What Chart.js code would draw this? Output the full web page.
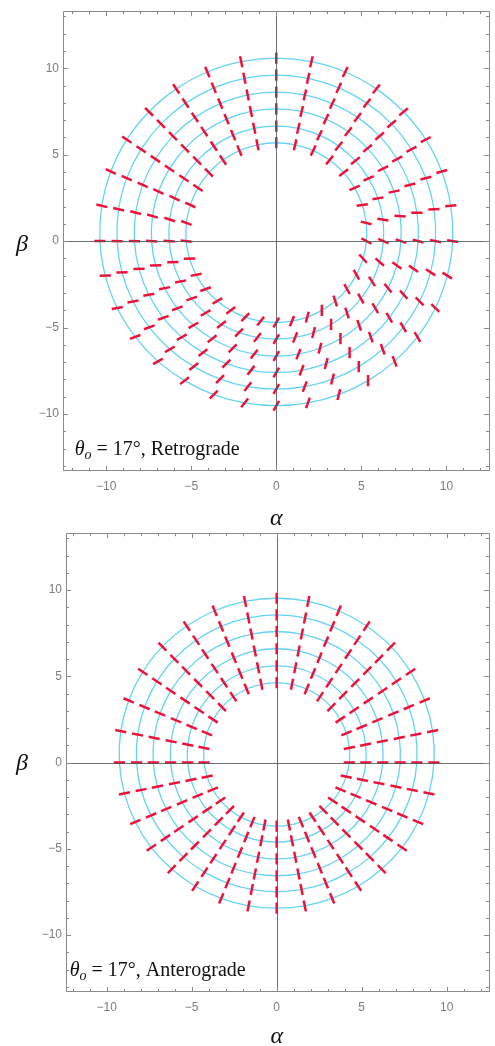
<!DOCTYPE html>
<html><head><meta charset="utf-8">
<script src="https://cdn.jsdelivr.net/npm/chart.js@4.4.0/dist/chart.umd.min.js"></script>
<style>
html,body{margin:0;padding:0;background:#fff;overflow:hidden;width:495px;height:1046px;}
.wrap{position:absolute;left:0;}
canvas{display:block;}
</style></head><body>
<div class="wrap" style="top:0px"><canvas id="c1" width="497" height="530"></canvas></div>
<div class="wrap" style="top:522px"><canvas id="c2" width="497" height="524"></canvas></div>
<script>
// ---- image-plane polar angle of each spoke (degrees) ----
const spokeAngles = [0,11.25,22.5,33.75,45,56.25,67.5,78.75,90,101.25,112.5,123.75,135,146.25,157.5,168.75,180,191.25,202.5,213.75,225,236.25,247.5,258.75,270,281.25,292.5,303.75,315,326.25,337.5,348.75];
const axisTicks = [-10,-5,0,5,10];

// ---- Retrograde: image radius b of each ring along each spoke ----
const retroRing1 = [5.30,5.39,5.47,5.54,5.60,5.64,5.67,5.68,5.69,5.68,5.67,5.64,5.60,5.54,5.47,5.39,5.30,5.20,5.10,5.00,4.90,4.82,4.76,4.72,4.71,4.72,4.76,4.82,4.90,5.00,5.10,5.20];
const retroRing2 = [6.30,6.39,6.47,6.53,6.58,6.61,6.63,6.65,6.65,6.65,6.63,6.61,6.58,6.53,6.47,6.39,6.30,6.20,6.09,5.98,5.88,5.80,5.73,5.68,5.67,5.68,5.73,5.80,5.88,5.98,6.09,6.20];
const retroRing3 = [7.33,7.42,7.50,7.55,7.59,7.62,7.64,7.65,7.65,7.65,7.64,7.62,7.59,7.55,7.50,7.42,7.33,7.23,7.11,7.00,6.89,6.79,6.71,6.67,6.65,6.67,6.71,6.79,6.89,7.00,7.11,7.23];
const retroRing4 = [8.34,8.43,8.50,8.55,8.59,8.61,8.61,8.62,8.62,8.62,8.61,8.61,8.59,8.55,8.50,8.43,8.34,8.23,8.11,7.99,7.86,7.76,7.67,7.62,7.60,7.62,7.67,7.76,7.86,7.99,8.11,8.23];
const retroRing5 = [9.36,9.45,9.52,9.56,9.59,9.60,9.60,9.60,9.60,9.60,9.60,9.60,9.59,9.56,9.52,9.45,9.36,9.25,9.12,8.98,8.85,8.73,8.64,8.58,8.56,8.58,8.64,8.73,8.85,8.98,9.12,9.25];
const retroRing6 = [10.37,10.46,10.53,10.57,10.58,10.59,10.59,10.58,10.58,10.58,10.59,10.59,10.58,10.57,10.53,10.46,10.37,10.25,10.12,9.98,9.84,9.71,9.61,9.54,9.52,9.54,9.61,9.71,9.84,9.98,10.12,10.25];
// polarization direction: offset (deg) from the radial direction
const retroTilt1 = [-28,-25,-15,-10,-7,-5,-3,-2,0,0,0,0,0,0,-2,-9,-6,-10,-12,-14,-15,-18,-22,-27,-30,-33,-37,-34,-27,-27,-38,-36];
const retroTilt2 = [-23,-20,-13,-9,-6,-5,-3,-2,0,0,0,0,0,0,-2,-7,-4,-10,-12,-14,-15,-18,-22,-27,-30,-33,-37,-34,-27,-27,-35,-30];
const retroTilt3 = [-18,-15,-11,-8,-6,-4,-3,-2,0,0,0,0,0,0,-2,-5,-3,-10,-12,-14,-15,-18,-22,-27,-30,-33,-37,-34,-26,-26,-28,-25];
const retroTilt4 = [-14,-11,-9,-7,-5,-4,-3,-2,0,0,0,0,0,0,-2,-3,-2,-10,-12,-14,-15,-18,-22,-27,-30,-32,-37,-34,-26,-26,-26,-24];
const retroTilt5 = [-11,-8,-8,-6,-5,-4,-3,-2,0,0,0,0,0,0,-2,-2,-1,-10,-12,-14,-15,-18,-22,-27,-30,-32,-37,-34,-25,-26,-23,-22];
const retroTilt6 = [-9,-6,-7,-6,-5,-4,-3,-2,0,0,0,0,0,0,-2,-2,0,-10,-12,-14,-15,-18,-22,-27,-30,-31,-37,-34,-25,-26,-22,-21];

// ---- Anterograde ----
const anteRing1 = [4.27,4.36,4.44,4.50,4.55,4.59,4.62,4.63,4.64,4.63,4.62,4.59,4.55,4.50,4.44,4.36,4.27,4.17,4.07,3.97,3.88,3.80,3.73,3.69,3.68,3.69,3.73,3.80,3.88,3.97,4.07,4.17];
const anteRing2 = [5.24,5.33,5.41,5.48,5.53,5.57,5.59,5.61,5.61,5.61,5.59,5.57,5.53,5.48,5.41,5.33,5.24,5.14,5.03,4.92,4.82,4.73,4.67,4.62,4.61,4.62,4.67,4.73,4.82,4.92,5.03,5.14];
const anteRing3 = [6.24,6.33,6.41,6.48,6.53,6.56,6.58,6.60,6.60,6.60,6.58,6.56,6.53,6.48,6.41,6.33,6.24,6.13,6.02,5.91,5.80,5.71,5.64,5.60,5.58,5.60,5.64,5.71,5.80,5.91,6.02,6.13];
const anteRing4 = [7.26,7.35,7.43,7.49,7.54,7.57,7.59,7.60,7.60,7.60,7.59,7.57,7.54,7.49,7.43,7.35,7.26,7.15,7.03,6.92,6.80,6.70,6.63,6.58,6.56,6.58,6.63,6.70,6.80,6.92,7.03,7.15];
const anteRing5 = [8.24,8.34,8.41,8.47,8.51,8.53,8.55,8.55,8.56,8.55,8.55,8.53,8.51,8.47,8.41,8.34,8.24,8.13,8.00,7.87,7.75,7.64,7.56,7.50,7.49,7.50,7.56,7.64,7.75,7.87,8.00,8.13];
const anteRing6 = [9.25,9.35,9.42,9.47,9.51,9.52,9.53,9.53,9.53,9.53,9.53,9.52,9.51,9.47,9.42,9.35,9.25,9.13,9.00,8.87,8.73,8.62,8.52,8.47,8.44,8.47,8.52,8.62,8.73,8.87,9.00,9.13];
const anteTilt = [0,0,0,0,0,0,0,0,0,0,0,0,0,0,0,0,0,0,0,0,0,0,0,0,0,0,0,0,0,0,0,0];

const RING_COLOR = '#63d3f7';
const TICK_COLOR = '#ef1238';

function toXY(radii){
  return radii.map((b,i)=>{const p=spokeAngles[i]*Math.PI/180;return {x:b*Math.cos(p),y:b*Math.sin(p)};});
}

const decor = {
  id:'decor',
  afterDatasetsDraw(chart, args, o){
    const ctx = chart.ctx, ca = chart.chartArea, xs = chart.scales.x, ys = chart.scales.y;
    ctx.save();
    // zero axes
    ctx.strokeStyle = 'rgba(85,85,85,0.85)';
    ctx.lineWidth = 1;
    const px0 = Math.round(xs.getPixelForValue(0))+0.5, py0 = Math.round(ys.getPixelForValue(0))+0.5;
    ctx.beginPath();
    ctx.moveTo(ca.left, py0); ctx.lineTo(ca.right, py0);
    ctx.moveTo(px0, ca.top); ctx.lineTo(px0, ca.bottom);
    ctx.stroke();
    // frame
    ctx.strokeStyle = '#8a8a8a';
    ctx.lineWidth = 1;
    ctx.beginPath();
    ctx.rect(Math.round(ca.left)+0.5, Math.round(ca.top)+0.5, Math.round(ca.right-ca.left), Math.round(ca.bottom-ca.top)-1);
    ctx.stroke();
    ctx.beginPath();
    for(let v=Math.ceil(xs.min); v<=Math.floor(xs.max); v++){
      const L = (v%5===0)?5:3;
      const p = Math.round(xs.getPixelForValue(v))+0.5;
      ctx.moveTo(p, ca.bottom); ctx.lineTo(p, ca.bottom-L);
      ctx.moveTo(p, ca.top); ctx.lineTo(p, ca.top+L);
    }
    for(let v=Math.ceil(ys.min); v<=Math.floor(ys.max); v++){
      const L = (v%5===0)?5:3;
      const p = Math.round(ys.getPixelForValue(v))+0.5;
      ctx.moveTo(ca.left, p); ctx.lineTo(ca.left+L, p);
      ctx.moveTo(ca.right, p); ctx.lineTo(ca.right-L, p);
    }
    ctx.stroke();
    // axis symbols
    ctx.fillStyle = '#111';
    ctx.font = 'italic 24px "Liberation Serif", "DejaVu Serif", serif';
    ctx.textAlign = 'center';
    ctx.textBaseline = 'alphabetic';
    ctx.fillText('\u03B2', 22, ys.getPixelForValue(0)+o.betaDy);
    ctx.fillText('\u03B1', xs.getPixelForValue(0), ca.bottom+o.alphaDy);
    // annotation centred at (-7,-12)
    const cx = xs.getPixelForValue(-7), cy = ys.getPixelForValue(-12);
    const fs = 20;
    const parts = [
      {t:'\u03B8', f:'italic '+fs+'px "Liberation Serif", serif', dy:0},
      {t:'o', f:'italic '+Math.round(fs*0.7)+'px "Liberation Serif", serif', dy:4},
      {t:' = 17\u00B0, '+o.note, f:fs+'px "Liberation Serif", serif', dy:0}
    ];
    let w = 0;
    parts.forEach(p=>{ctx.font=p.f; p.w=ctx.measureText(p.t).width; w+=p.w;});
    let x = cx - w/2;
    ctx.textAlign = 'left';
    ctx.textBaseline = 'alphabetic';
    parts.forEach(p=>{ctx.font=p.f; ctx.fillText(p.t, x, cy+6+p.dy); x+=p.w;});
    ctx.restore();
  }
};

function build(id, rings, tilts, geo, note){
  const datasets = [];
  rings.forEach((r, ri)=>{
    const pts = toXY(r), n = pts.length;
    const loop = [pts[n-1]].concat(pts, [pts[0], pts[1]]);
    datasets.push({
      type:'line', data: loop, parsing:true, borderColor: RING_COLOR, borderWidth: 1.3,
      pointRadius: 0, tension: 0.34, fill:false, order: 5,
      segment: { borderColor: c => (c.p0DataIndex===0 || c.p0DataIndex===n+1) ? 'rgba(0,0,0,0)' : undefined }
    });
  });
  rings.forEach((r, ri)=>{
    const pts = toXY(r);
    const rot = spokeAngles.map((p,i)=> -(p + tilts[ri][i]));
    datasets.push({
      type:'scatter', data: pts, showLine:false, order: 1,
      pointStyle:'line', pointRadius: 5.6, pointHoverRadius: 5.6,
      pointBorderWidth: 2.5, pointBorderColor: TICK_COLOR, pointBackgroundColor: TICK_COLOR,
      pointRotation: rot
    });
  });
  const tickFont = {family:'"Liberation Sans", Arial, sans-serif', size: 12};
  const fmt = v => v<0 ? '\u2212'+(-v) : String(v);
  return new Chart(document.getElementById(id), {
    type:'scatter',
    data:{datasets},
    options:{
      responsive:false, animation:false, events:[],
      layout:{padding:{top:geo.top, left:0, right:0, bottom:0}},
      plugins:{legend:{display:false}, tooltip:{enabled:false}, decor:{note, betaDy:geo.betaDy, alphaDy:geo.alphaDy}},
      scales:{
        x:{type:'linear', position:'bottom', min:geo.xmin, max:geo.xmax,
           afterBuildTicks: s => { s.ticks = axisTicks.map(v=>({value:v})); },
           afterFit: s => { s.height = geo.xh; },
           grid:{display:false, drawTicks:false}, border:{display:false},
           ticks:{color:'#7d7d7d', font:tickFont, padding:geo.xpad, maxRotation:0, autoSkip:false, callback: fmt}},
        y:{type:'linear', position:'left', min:-13.3, max:13.3,
           afterBuildTicks: s => { s.ticks = axisTicks.map(v=>({value:v})); },
           afterFit: s => { s.width = geo.yw; },
           grid:{display:false, drawTicks:false}, border:{display:false},
           ticks:{color:'#7d7d7d', font:tickFont, padding:4, autoSkip:false, callback: fmt}}
      }
    },
    plugins:[decor]
  });
}

build('c1',
  [retroRing1,retroRing2,retroRing3,retroRing4,retroRing5,retroRing6],
  [retroTilt1,retroTilt2,retroTilt3,retroTilt4,retroTilt5,retroTilt6],
  {top:9, xh:59, yw:63, xmin:-12.54, xmax:12.5, xpad:8, betaDy:10, alphaDy:54},
  'Retrograde');
build('c2',
  [anteRing1,anteRing2,anteRing3,anteRing4,anteRing5,anteRing6],
  [anteTilt,anteTilt,anteTilt,anteTilt,anteTilt,anteTilt],
  {top:10, xh:54, yw:66, xmin:-12.39, xmax:12.48, xpad:8, betaDy:7, alphaDy:51},
  'Anterograde');
</script>
</body></html>
